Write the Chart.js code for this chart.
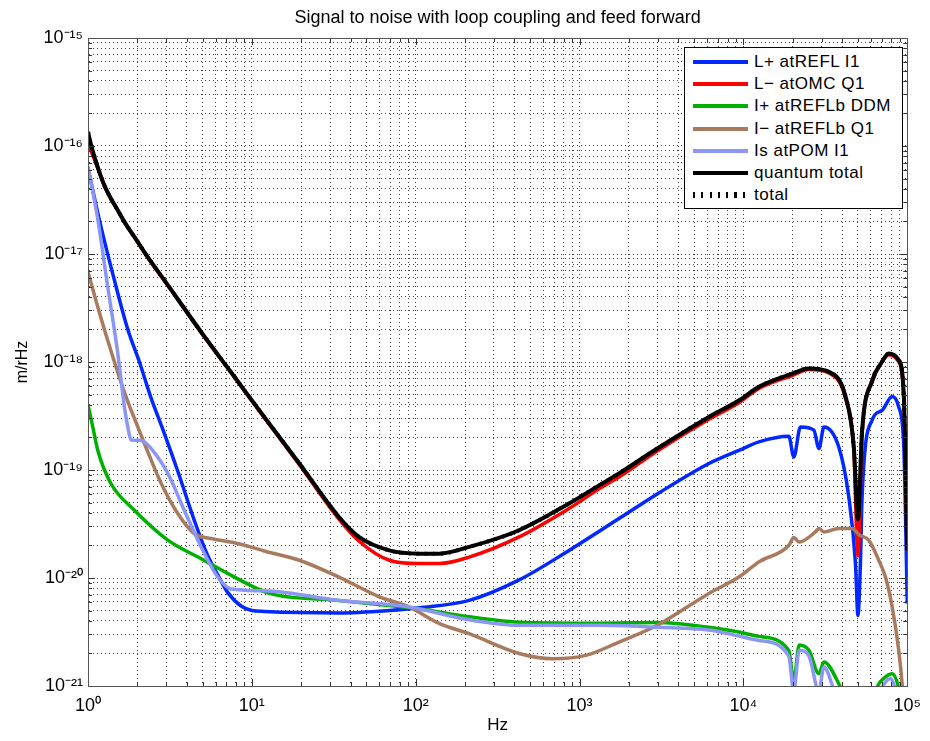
<!DOCTYPE html>
<html>
<head>
<meta charset="utf-8">
<title>Signal to noise with loop coupling and feed forward</title>
<script src="https://cdn.jsdelivr.net/npm/chart.js@4.4.0/dist/chart.umd.min.js"></script>
<style>
    body { margin: 0; background: #fff; }
    #wrap { position: relative; width: 930px; height: 741px; }
    #legend {
        position: absolute; left: 684px; top: 47px; width: 219px; height: 162px;
        box-sizing: border-box; border: 1px solid #000; background: #fff;
        padding-top: 3px; font: 17px 'Liberation Sans', Arial, sans-serif; letter-spacing: 0.5px; color: #000;
    }
    .row { height: 22.2px; display: flex; align-items: center; white-space: nowrap; }
    .sample { width: 55px; height: 4px; margin-left: 8px; margin-right: 6px; }
</style>
</head>
<body>
<div id="wrap">
    <canvas id="myChart" width="930" height="741"></canvas>
    <div id="legend"></div>
</div>
<script>
// tick setup
var mantissas = [1, 2, 3, 4, 5, 6, 7, 8, 9];
var xDecades = [0, 1, 2, 3, 4, 5];
var yDecades = [-21, -20, -19, -18, -17, -16, -15];

// L+ atREFL I1 (blue)
var fLplus = [1, 1.175, 1.45, 1.75, 2.06, 2.43, 2.8, 3.51, 4.46, 5.3, 6.34, 7.1, 8.6, 10, 11.9, 34, 69, 105, 212, 428, 863, 1741, 2980, 6160, 9390, 12440, 18930, 20300, 22300, 26900, 28900, 31000, 38200, 44000, 48300, 50000, 51800, 53000, 61000, 70200, 80900, 88700, 95300, 100000];
var vLplus = [6.2e-17, 2.05e-17, 5.7e-18, 2.0e-18, 1.0e-18, 4.6e-19, 2.6e-19, 1.0e-19, 3.4e-20, 1.7e-20, 1.0e-20, 7.4e-21, 5.5e-21, 5.0e-21, 4.9e-21, 4.75e-21, 5.0e-21, 5.3e-21, 6.2e-21, 9.6e-21, 1.8e-20, 3.55e-20, 6.0e-20, 1.15e-19, 1.52e-19, 1.82e-19, 2.05e-19, 1.32e-19, 2.5e-19, 2.34e-19, 1.58e-19, 2.5e-19, 1.63e-19, 5.6e-20, 1.36e-20, 4.5e-21, 1.4e-20, 5.6e-20, 2.9e-19, 3.57e-19, 4.8e-19, 3.83e-19, 1.63e-19, 5.8e-21];

// L- atOMC Q1 (red)
var fLminus = [1, 1.05, 1.111, 1.175, 1.26, 1.39, 1.52, 1.69, 1.92, 2.37, 2.93, 4.9, 7.83, 11.9, 19.5, 34, 45, 69, 105, 139, 212, 428, 863, 1315, 1741, 2980, 6160, 9390, 12440, 19850, 25100, 33200, 42000, 47200, 50000, 53000, 61000, 70000, 77100, 88700, 95300, 100000];
var vLminus = [1.05e-16, 8.8e-17, 7.1e-17, 5.65e-17, 4.28e-17, 3.18e-17, 2.52e-17, 1.9e-17, 1.43e-17, 8.8e-18, 5.65e-18, 1.88e-18, 7.2e-19, 3.05e-19, 1.12e-19, 3.5e-20, 2.2e-20, 1.46e-20, 1.36e-20, 1.36e-20, 1.56e-20, 2.4e-20, 4.4e-20, 6.7e-20, 8.6e-20, 1.5e-19, 2.95e-19, 4.2e-19, 5.7e-19, 7.5e-19, 8.5e-19, 7.9e-19, 4.6e-19, 1.5e-19, 1.6e-20, 2.2e-19, 6.5e-19, 1.0e-18, 1.17e-18, 1.0e-18, 4.6e-19, 1.8e-20];

// I+ atREFLb DDM (green)
var fIplus = [1, 1.07, 1.15, 1.38, 1.92, 3.07, 4.9, 7.83, 12.8, 34, 87, 105, 212, 428, 1315, 2980, 6160, 9390, 12440, 18900, 20300, 21900, 25100, 28900, 31000, 38200, 45000, 60000, 66000, 73000, 80900, 88000, 95000, 100000];
var vIplus = [4.0e-19, 2.5e-19, 1.5e-19, 7.5e-20, 4.24e-20, 2.24e-20, 1.51e-20, 1.02e-20, 7.2e-21, 6.2e-21, 5.37e-21, 5.2e-21, 4.37e-21, 3.9e-21, 3.82e-21, 3.87e-21, 3.5e-21, 3.16e-21, 2.88e-21, 2.14e-21, 1.12e-21, 2.4e-21, 2.14e-21, 1.3e-21, 1.67e-21, 1.05e-21, 6e-22, 6e-22, 1.0e-21, 1.2e-21, 1.3e-21, 1.0e-21, 5e-22, 3e-22];

// I- atREFLb Q1 (brown)
var fIminus = [1, 1.15, 1.32, 1.59, 1.75, 1.92, 2.21, 2.8, 3.53, 4.46, 5.64, 8.2, 11.9, 19.5, 34, 60, 91, 139, 212, 428, 683, 1091, 1741, 2980, 6160, 9390, 12440, 18930, 20300, 21900, 27500, 28900, 31000, 38200, 46100, 51000, 58200, 67000, 73600, 80900, 88700, 93000, 100000];
var vIminus = [6.8e-18, 3.2e-18, 1.58e-18, 6.5e-19, 4.3e-19, 3.0e-19, 1.76e-19, 7.5e-20, 3.95e-20, 2.57e-20, 2.32e-20, 2.09e-20, 1.78e-20, 1.46e-20, 1.02e-20, 6.7e-21, 5.4e-21, 3.8e-21, 3.05e-21, 2.0e-21, 1.79e-21, 1.92e-21, 2.55e-21, 3.65e-21, 7.2e-21, 1.02e-20, 1.41e-20, 2.0e-20, 2.37e-20, 2.15e-20, 2.67e-20, 2.88e-20, 2.67e-20, 2.88e-20, 2.88e-20, 2.5e-20, 2.24e-20, 1.46e-20, 1.02e-20, 5.4e-21, 2.14e-21, 1.05e-21, 2e-22];

// Is atPOM I1 (light blue)
var fIs = [1, 1.15, 1.32, 1.52, 1.67, 1.75, 1.83, 2.11, 2.43, 3.07, 3.88, 4.9, 6.19, 7.47, 11.9, 34, 91, 212, 428, 1315, 2980, 6160, 9390, 12440, 18900, 20300, 21900, 25100, 28900, 31000, 36000, 45000, 62000, 70000, 79000, 85000, 92000, 100000];
var vIs = [6.5e-17, 2.05e-17, 4.95e-18, 1.2e-18, 3.8e-19, 2.5e-19, 1.9e-19, 1.88e-19, 1.58e-19, 9.3e-20, 4.2e-20, 1.94e-20, 1.02e-20, 7.9e-21, 7.6e-21, 6.2e-21, 5.4e-21, 4.1e-21, 3.65e-21, 3.65e-21, 3.5e-21, 3.3e-21, 2.9e-21, 2.64e-21, 1.9e-21, 9e-22, 2.14e-21, 1.9e-21, 9e-22, 1.5e-21, 9e-22, 5e-22, 5e-22, 9.5e-22, 1.17e-21, 9e-22, 5e-22, 3e-22];

// quantum total (black)
var fQuantum = [1, 1.05, 1.111, 1.175, 1.26, 1.39, 1.52, 1.69, 1.92, 2.37, 2.93, 4.9, 7.83, 11.9, 19.5, 34, 45, 69, 105, 139, 212, 428, 863, 1315, 1741, 2980, 6160, 9390, 12440, 19850, 25100, 33200, 42000, 47200, 50000, 53000, 61000, 70000, 77100, 88700, 95300, 100000];
var vQuantum = [1.35e-16, 9.9e-17, 7.4e-17, 5.7e-17, 4.3e-17, 3.2e-17, 2.54e-17, 1.92e-17, 1.44e-17, 8.9e-18, 5.7e-18, 1.9e-18, 7.3e-19, 3.1e-19, 1.15e-19, 3.67e-20, 2.4e-20, 1.8e-20, 1.68e-20, 1.68e-20, 1.94e-20, 2.77e-20, 4.9e-20, 7.2e-20, 9.3e-20, 1.58e-19, 3.1e-19, 4.4e-19, 5.9e-19, 7.8e-19, 8.7e-19, 8.1e-19, 4.8e-19, 1.63e-19, 3.5e-20, 2.3e-19, 6.7e-19, 1.0e-18, 1.2e-18, 1.04e-18, 4.8e-19, 1.8e-20];

// total (dotted, lies on the quantum total)
var fTotal = fQuantum;
var vTotal = vQuantum;

var supers = {'0': '⁰', '1': '¹', '2': '²', '3': '³', '4': '⁴', '5': '⁵', '6': '⁶', '7': '⁷', '8': '⁸', '9': '⁹', '-': '⁻'};
var fontFamily = "'Liberation Sans', Arial, Helvetica, sans-serif";

function toPoints(freqs, vals) {
    return freqs.map(function(f, i) { return {x: f, y: vals[i]}; });
}

function tickValues(decades) {
    var out = [];
    decades.forEach(function(e, k) {
        if (k === decades.length - 1) {
            out.push(Math.pow(10, e));
            return;
        }
        mantissas.forEach(function(m) {
            out.push(Number((m * Math.pow(10, e)).toPrecision(3)));
        });
    });
    return out;
}

function isDecade(v) {
    var l = Math.log10(v);
    return Math.abs(l - Math.round(l)) < 1e-6;
}

function powLabel(v) {
    if (!isDecade(v)) return '';
    var e = String(Math.round(Math.log10(v)));
    return '10' + e.split('').map(function(c) { return supers[c]; }).join('');
}

function makeSet(label, freqs, vals, color, width, order, dash) {
    return {
        label: label,
        data: toPoints(freqs, vals),
        borderColor: color,
        backgroundColor: color,
        borderWidth: width,
        borderDash: dash || [],
        pointRadius: 0,
        fill: false,
        cubicInterpolationMode: 'monotone',
        clip: 0,
        order: order
    };
}

// Matlab style box with inward ticks
var boxPlugin = {
    id: 'matlabBox',
    afterDatasetsDraw: function(chart) {
        var a = chart.chartArea;
        var ctx = chart.ctx;
        var xs = chart.scales.x;
        var ys = chart.scales.y;
        ctx.save();
        ctx.strokeStyle = '#333';
        ctx.lineWidth = 1;
        ctx.beginPath();
        xs.ticks.forEach(function(t) {
            var px = Math.round(xs.getPixelForValue(t.value)) + 0.5;
            var len = isDecade(t.value) ? 7 : 4;
            ctx.moveTo(px, a.bottom); ctx.lineTo(px, a.bottom - len);
            ctx.moveTo(px, a.top); ctx.lineTo(px, a.top + len);
        });
        ys.ticks.forEach(function(t) {
            var py = Math.round(ys.getPixelForValue(t.value)) + 0.5;
            var len = isDecade(t.value) ? 7 : 4;
            ctx.moveTo(a.left, py); ctx.lineTo(a.left + len, py);
            ctx.moveTo(a.right, py); ctx.lineTo(a.right - len, py);
        });
        ctx.stroke();
        ctx.strokeStyle = '#555';
        ctx.strokeRect(Math.round(a.left) + 0.5, Math.round(a.top) + 0.5, Math.round(a.right - a.left), Math.round(a.bottom - a.top));
        ctx.restore();
    }
};

function buildLegend(chart) {
    var box = document.getElementById('legend');
    box.innerHTML = '';
    chart.data.datasets.forEach(function(ds) {
        var row = document.createElement('div');
        row.className = 'row';
        var sample = document.createElement('span');
        sample.className = 'sample';
        if (ds.borderDash && ds.borderDash.length) {
            sample.style.height = '6px';
            sample.style.background = 'repeating-linear-gradient(to right, ' + ds.borderColor + ' 0 2px, transparent 2px 8.3px)';
        } else {
            sample.style.background = ds.borderColor;
        }
        var text = document.createElement('span');
        text.textContent = ds.label;
        row.appendChild(sample);
        row.appendChild(text);
        box.appendChild(row);
    });
}

document.addEventListener('DOMContentLoaded', function() {
    var ctx = document.getElementById('myChart').getContext('2d');
    var xTicks = tickValues(xDecades);
    var yTicks = tickValues(yDecades);

    var gridOpts = { color: 'rgba(0, 0, 0, 0.75)', lineWidth: 1, drawTicks: false };

    var chart = new Chart(ctx, {
        type: 'line',
        data: {
            datasets: [
                makeSet('L+ atREFL I1', fLplus, vLplus, '#0028ff', 3.5, 7),
                makeSet('L\u2212 atOMC Q1', fLminus, vLminus, '#ff0000', 3.5, 6),
                makeSet('I+ atREFLb DDM', fIplus, vIplus, '#00b000', 3.5, 5),
                makeSet('I\u2212 atREFLb Q1', fIminus, vIminus, '#a87a5e', 3.5, 4),
                makeSet('Is atPOM I1', fIs, vIs, '#8b96f5', 3.5, 3),
                makeSet('quantum total', fQuantum, vQuantum, '#000000', 4, 2),
                makeSet('total', fTotal, vTotal, '#000000', 4, 1, [2, 6])
            ]
        },
        options: {
            responsive: false,
            animation: false,
            layout: { padding: { left: 0, right: 22, top: 0, bottom: 0 } },
            plugins: {
                legend: { display: false },
                tooltip: { enabled: false },
                title: {
                    display: true,
                    fullSize: false,
                    text: 'Signal to noise with loop coupling and feed forward',
                    color: '#000',
                    font: { family: fontFamily, size: 18, weight: 'normal' },
                    padding: { top: 7, bottom: 9.4 }
                }
            },
            scales: {
                x: {
                    type: 'logarithmic',
                    min: 1,
                    max: 1e5,
                    afterBuildTicks: function(scale) {
                        scale.ticks = xTicks.map(function(v) { return {value: v}; });
                    },
                    afterFit: function(scale) { scale.height = 55; },
                    ticks: {
                        autoSkip: false,
                        maxRotation: 0,
                        padding: 9,
                        color: '#000',
                        font: { family: fontFamily, size: 18 },
                        callback: function(value) { return powLabel(value); }
                    },
                    grid: gridOpts,
                    border: { display: true, color: '#555', width: 1, dash: [1, 3] },
                    title: {
                        display: true,
                        text: 'Hz',
                        color: '#000',
                        font: { family: fontFamily, size: 17 },
                        padding: { top: 0, bottom: 5 }
                    }
                },
                y: {
                    type: 'logarithmic',
                    min: 1e-21,
                    max: 1e-15,
                    afterBuildTicks: function(scale) {
                        scale.ticks = yTicks.map(function(v) { return {value: v}; });
                    },
                    afterFit: function(scale) { scale.width = 88; },
                    ticks: {
                        autoSkip: false,
                        padding: 5,
                        color: '#000',
                        font: { family: fontFamily, size: 18 },
                        callback: function(value) { return powLabel(value); }
                    },
                    grid: gridOpts,
                    border: { display: true, color: '#555', width: 1, dash: [1, 3] },
                    title: {
                        display: true,
                        text: 'm/rHz',
                        color: '#000',
                        font: { family: fontFamily, size: 16 },
                        padding: { top: 13, bottom: 0 }
                    }
                }
            }
        },
        plugins: [boxPlugin]
    });

    buildLegend(chart);
});
</script>
</body>
</html>
